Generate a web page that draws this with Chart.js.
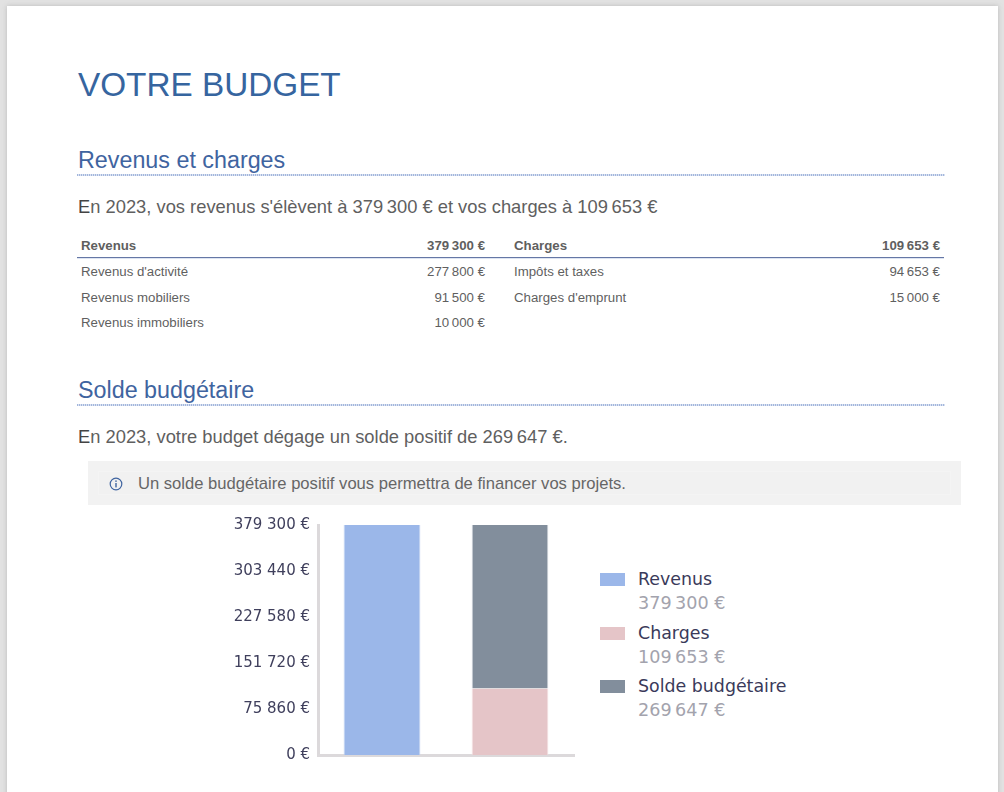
<!DOCTYPE html>
<html lang="fr">
<head>
<meta charset="utf-8">
<title>Votre budget</title>
<script src="https://cdn.jsdelivr.net/npm/chart.js@4"></script>
<style>
    html, body { margin: 0; height: 100%; overflow: hidden; background: #e2e2e2; }
    #sheet { position: absolute; left: 7px; top: 6px; width: 991px; height: 800px; background: #fff; box-shadow: 0 0 5px #bbb; }
    #page { position: absolute; left: 0; top: 0; width: 1004px; height: 792px; font-family: "Liberation Sans", Arial, sans-serif; color: #5f5f5f; }
    #page > * { position: absolute; margin: 0; white-space: nowrap; }
    h1 { left: 78px; top: 65px; font-size: 33.3px; line-height: 40px; font-weight: normal; color: #36659f; }
    h2 { left: 78px; font-size: 23.3px; line-height: 28px; font-weight: normal; color: #3f64a0; }
    .rule { left: 77px; width: 868px; height: 2px; background: repeating-linear-gradient(90deg, #a3b6dc 0 1px, #dbe3f2 1px 2px); }
    .lead { left: 78px; font-size: 18.33px; line-height: 22px; }
    .lead::first-letter { color: #444; }
    .cell { font-size: 13.25px; line-height: 16px; }
    .cell.head { font-weight: bold; }
    #tableLine { left: 77px; top: 257px; width: 867px; height: 1px; background: #6577a5; border-bottom: 1px solid #dde4f2; }
    #note { left: 88px; top: 461px; width: 873px; height: 44px; background: #f2f2f2; }
    #noteInner { left: 98px; top: 471px; width: 851px; height: 22px; background: #f1f1f1; border: 1px solid #f4f4f4; }
    #noteIcon { left: 109px; top: 477px; }
    #noteText { left: 138px; top: 474px; font-size: 16.6px; line-height: 20px; color: #666; }
    #chartBox { left: 220px; top: 508px; width: 360px; height: 264px; }
    #legend { left: 600px; top: 567px; font-family: "DejaVu Sans", Verdana, sans-serif; }
    .item { position: relative; height: 53.7px; padding-left: 38px; }
    .swatch { position: absolute; left: 0; top: 6px; width: 25px; height: 13px; }
    .name { font-size: 17.4px; line-height: 25px; color: #3a3a5a; }
    .amount { font-size: 17.6px; line-height: 22px; color: #a3a3ad; }
</style>
</head>
<body>
<div id="sheet"></div>
<div id="page">
    <h1>VOTRE BUDGET</h1>
    <h2 style="top:146px">Revenus et charges</h2>
    <div class="rule" style="top:174px"></div>
    <p class="lead" style="top:196px">En 2023, vos revenus s'élèvent à 379&#8239;300 € et vos charges à 109&#8239;653 €</p>
    <div id="tableLine"></div>
    <div id="tableCells"></div>
    <h2 style="top:376px">Solde budgétaire</h2>
    <div class="rule" style="top:404px"></div>
    <p class="lead" style="top:426px">En 2023, votre budget dégage un solde positif de 269&#8239;647 €.</p>
    <div id="note"></div>
    <div id="noteInner"></div>
    <svg id="noteIcon" width="14" height="14" viewBox="0 0 14 14">
        <circle cx="7" cy="7" r="5.8" fill="none" stroke="#3f64a0" stroke-width="1.2"/>
        <rect x="6.3" y="6" width="1.4" height="4.4" fill="#3f64a0"/>
        <rect x="6.3" y="3.4" width="1.4" height="1.5" fill="#3f64a0"/>
    </svg>
    <div id="noteText">Un solde budgétaire positif vous permettra de financer vos projets.</div>
    <div id="chartBox"><canvas id="budgetChart" width="360" height="264"></canvas></div>
    <div id="legend"></div>
</div>

<script>
// Table contents
const revenusRows = [
    ['Revenus', '379\u202f300 €'],
    ["Revenus d'activité", '277\u202f800 €'],
    ['Revenus mobiliers', '91\u202f500 €'],
    ['Revenus immobiliers', '10\u202f000 €']
];
const chargesRows = [
    ['Charges', '109\u202f653 €'],
    ['Impôts et taxes', '94\u202f653 €'],
    ["Charges d'emprunt", '15\u202f000 €']
];

// Chart data
const categories = ['Revenus', 'Charges et solde'];
const revenusValues = [379300, null];
const chargesValues = [null, 109653];
const soldeValues = [null, 269647];
const tickValues = [0, 75860, 151720, 227580, 303440, 379300];

const seriesNames = ['Revenus', 'Charges', 'Solde budgétaire'];
const seriesTotals = ['379\u202f300 €', '109\u202f653 €', '269\u202f647 €'];
const seriesColors = ['#9bb7e9', '#e5c5c8', '#828e9c'];
const seriesEdges = ['#c3d4f3', '#f5e2e4', '#dfe3e8'];

// Fill the table
const rowTops = [238, 264, 290, 315];
const tableCells = document.getElementById('tableCells');

function addCell(text, left, top, isHead, rightEdge) {
    const cell = document.createElement('div');
    cell.className = 'cell' + (isHead ? ' head' : '');
    cell.textContent = text;
    cell.style.position = 'absolute';
    cell.style.top = top + 'px';
    cell.style.whiteSpace = 'nowrap';
    if (rightEdge) {
        cell.style.right = (1004 - rightEdge) + 'px';
    } else {
        cell.style.left = left + 'px';
    }
    tableCells.appendChild(cell);
}

tableCells.style.left = '0';
tableCells.style.top = '0';
tableCells.style.width = '1004px';

revenusRows.forEach((row, i) => {
    addCell(row[0], 81, rowTops[i], i === 0);
    addCell(row[1], 0, rowTops[i], i === 0, 485);
});
chargesRows.forEach((row, i) => {
    addCell(row[0], 514, rowTops[i], i === 0);
    addCell(row[1], 0, rowTops[i], i === 0, 940);
});

// Legend next to the chart
const legend = document.getElementById('legend');
seriesNames.forEach((name, i) => {
    const item = document.createElement('div');
    item.className = 'item';
    item.innerHTML = '<span class="swatch" style="background:' + seriesColors[i] + '"></span>' +
        '<div class="name">' + name + '</div><div class="amount">' + seriesTotals[i] + '</div>';
    legend.appendChild(item);
});

const ctxBudget = document.getElementById('budgetChart').getContext('2d');
new Chart(ctxBudget, {
    type: 'bar',
    data: {
        labels: categories,
        datasets: [
            { label: seriesNames[0], data: revenusValues, backgroundColor: seriesColors[0], borderColor: seriesEdges[0], borderWidth: { left: 1, right: 1 } },
            { label: seriesNames[1], data: chargesValues, backgroundColor: seriesColors[1], borderColor: seriesEdges[1], borderWidth: { left: 1, right: 1 } },
            { label: seriesNames[2], data: soldeValues, backgroundColor: seriesColors[2], borderColor: seriesEdges[2], borderWidth: { left: 1, right: 1 } }
        ]
    },
    options: {
        responsive: false,
        animation: false,
        layout: { padding: { top: 0, right: 6, bottom: 0, left: 0 } },
        plugins: { legend: { display: false }, tooltip: { enabled: false } },
        datasets: { bar: { categoryPercentage: 0.6, barPercentage: 1 } },
        scales: {
            x: {
                stacked: true,
                grid: { display: false, drawTicks: false },
                border: { color: '#dcd9db', width: 3 },
                ticks: { display: false }
            },
            y: {
                stacked: true,
                min: 0,
                max: 379300,
                afterBuildTicks: axis => { axis.ticks = tickValues.map(value => ({ value })); },
                afterFit: axis => { axis.width = 98; },
                grid: { display: false, drawTicks: false },
                border: { color: '#dcd9db', width: 3 },
                ticks: {
                    padding: 8,
                    color: '#3f3f5c',
                    font: { family: '"DejaVu Sans", Verdana, sans-serif', size: 15 },
                    callback: value => String(value).replace(/\B(?=(\d{3})+$)/g, ' ') + ' €'
                }
            }
        }
    }
});
</script>
</body>
</html>
